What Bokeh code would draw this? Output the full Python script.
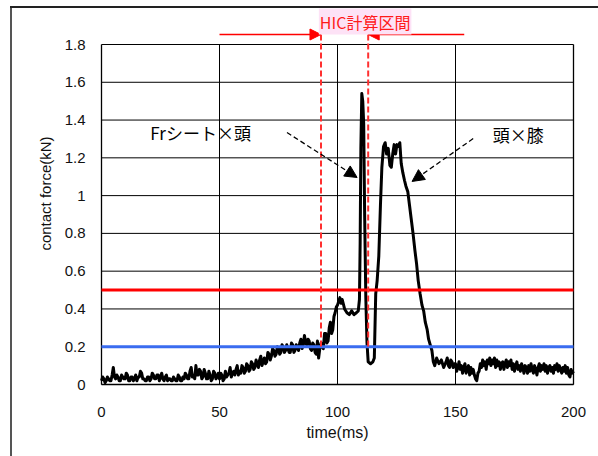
from bokeh.plotting import figure
from bokeh.models import Range1d, FixedTicker, Arrow, NormalHead, Label, ColumnDataSource
from bokeh.embed import file_html
from bokeh.resources import INLINE

# ---------------- data ----------------
time_a = [0.5 * i for i in range(201)]          # 0 .. 100 ms
force_a = [0.02, 0.04, 0.03, 0.01, 0.02, 0.04, 0.03, 0.02, 0.02, 0.05, 0.09, 0.04, 0.03, 0.05, 0.04, 0.02, 0.02, 0.05, 0.04, 0.03,
           0.03, 0.06, 0.05, 0.02, 0.02, 0.04, 0.04, 0.02, 0.03, 0.05, 0.02, 0.04, 0.04, 0.07, 0.06, 0.03, 0.03, 0.02, 0.02, 0.04,
           0.04, 0.02, 0.03, 0.06, 0.05, 0.03, 0.03, 0.05, 0.05, 0.02, 0.04, 0.06, 0.03, 0.02, 0.04, 0.05, 0.02, 0.03, 0.03, 0.02,
           0.02, 0.04, 0.03, 0.02, 0.02, 0.05, 0.04, 0.02, 0.02, 0.04, 0.03, 0.06, 0.05, 0.03, 0.03, 0.07, 0.09, 0.04, 0.05, 0.03,
           0.10, 0.05, 0.05, 0.08, 0.07, 0.03, 0.04, 0.08, 0.06, 0.03, 0.03, 0.07, 0.05, 0.02, 0.03, 0.07, 0.06, 0.03, 0.04, 0.06,
           0.03, 0.06, 0.05, 0.02, 0.03, 0.07, 0.04, 0.05, 0.06, 0.09, 0.04, 0.06, 0.07, 0.05, 0.08, 0.10, 0.05, 0.07, 0.06, 0.10,
           0.09, 0.06, 0.07, 0.11, 0.10, 0.07, 0.08, 0.12, 0.11, 0.08, 0.09, 0.13, 0.11, 0.09, 0.13, 0.15, 0.10, 0.12, 0.14, 0.11,
           0.12, 0.17, 0.16, 0.13, 0.15, 0.19, 0.18, 0.15, 0.16, 0.20, 0.19, 0.16, 0.17, 0.21, 0.20, 0.17, 0.18, 0.21, 0.19, 0.17,
           0.17, 0.22, 0.21, 0.17, 0.18, 0.21, 0.20, 0.18, 0.22, 0.24, 0.19, 0.21, 0.26, 0.22, 0.21, 0.24, 0.23, 0.19, 0.18, 0.22,
           0.21, 0.17, 0.16, 0.23, 0.14, 0.19, 0.22, 0.20, 0.19, 0.27, 0.27, 0.22, 0.23, 0.30, 0.33, 0.27, 0.29, 0.36, 0.38, 0.41,
           0.42]
time_b = [100.5, 101, 101.5, 102, 103, 104, 105, 106, 107, 108, 108.8, 109.3,
          109.6, 109.9, 110.3, 110.7, 111.1, 111.5, 112, 112.5, 113, 114, 115,
          115.6, 116.2, 116.8, 117.5, 118.2, 118.8, 119.5, 120.2, 120.8, 121.5,
          122.2, 122.8, 123.4, 124, 124.6, 125.2, 125.8, 126.4, 127, 127.7,
          128.4, 129, 129.8, 130.5, 131.2, 132, 132.8, 133.5, 134.2, 135,
          135.8, 136.5, 137.2, 138, 138.6, 139.3, 140, 140.6, 141.2, 142, 143,
          144, 145]
force_b = [0.44, 0.46, 0.43, 0.45, 0.40, 0.38, 0.37, 0.39, 0.37, 0.38, 0.39, 0.45,
           0.75, 1.25, 1.54, 1.50, 1.38, 0.90, 0.46, 0.22, 0.12, 0.11, 0.12,
           0.14, 0.48, 0.55, 0.68, 0.95, 1.15, 1.26, 1.28, 1.22, 1.25,
           1.16, 1.15, 1.22, 1.27, 1.22, 1.27, 1.26, 1.28, 1.17, 1.12,
           1.08, 1.05, 1.02, 0.95, 0.88, 0.80, 0.71, 0.64, 0.55, 0.48,
           0.42, 0.39, 0.33, 0.29, 0.24, 0.21, 0.18, 0.12, 0.10, 0.14, 0.11,
           0.13, 0.09]
time_c = [146 + 0.5 * i for i in range(109)]    # 146 .. 200 ms
force_c = [0.12, 0.14, 0.10, 0.09, 0.13, 0.12, 0.09, 0.11,
           0.11, 0.07, 0.09, 0.12, 0.08, 0.10, 0.06, 0.09, 0.11, 0.06, 0.08, 0.10, 0.05, 0.09, 0.06, 0.08, 0.05, 0.03, 0.02, 0.06,
           0.07, 0.11, 0.09, 0.13, 0.10, 0.12, 0.08, 0.13, 0.11, 0.14, 0.10, 0.13, 0.11, 0.14, 0.09, 0.13, 0.10, 0.12, 0.08, 0.11,
           0.12, 0.08, 0.11, 0.13, 0.09, 0.12, 0.10, 0.13, 0.08, 0.11, 0.07, 0.10, 0.12, 0.08, 0.10, 0.07, 0.11, 0.09, 0.06, 0.10,
           0.09, 0.06, 0.10, 0.07, 0.11, 0.08, 0.06, 0.10, 0.08, 0.05, 0.09, 0.11, 0.07, 0.10, 0.08, 0.11, 0.07, 0.10, 0.06, 0.09,
           0.10, 0.07, 0.09, 0.06, 0.10, 0.08, 0.11, 0.07, 0.10, 0.08, 0.06, 0.09, 0.07, 0.10, 0.06, 0.09, 0.05, 0.04, 0.08, 0.06,
           0.07]

red_level = 0.5
blue_level = 0.2
hic_start = 93
hic_end = 113
x_min, x_max = 0, 200
y_min, y_max = 0, 1.8
x_ticks = [0, 50, 100, 150, 200]
x_grid = [50, 100, 150]
y_ticks = [0, 0.2, 0.4, 0.6, 0.8, 1, 1.2, 1.4, 1.6, 1.8]
y_tick_labels = ["0", "0.2", "0.4", "0.6", "0.8", "1", "1.2", "1.4", "1.6", "1.8"]

time = time_a + time_b + time_c
force = force_a + force_b + force_c
src = ColumnDataSource(dict(t=time, f=force))

FONT = "Liberation Sans"
CJK = "Noto Sans CJK JP"

# frame: x 0..200 -> px 101..573 ; y 0..1.8 -> px 384..44
PX_X = 472 / 200.0
PX_Y = 340 / 1.8
pad_x = 2 / PX_X
pad_y = 2 / PX_Y
y_top = y_max + 44 / PX_Y

p = figure(width=598, height=456, output_backend="svg", toolbar_location=None,
           x_range=Range1d(x_min - pad_x, x_max + pad_x),
           y_range=Range1d(y_min - pad_y, y_top),
           min_border_left=99, min_border_right=23, min_border_top=0,
           min_border_bottom=70)
p.background_fill_color = None
p.border_fill_color = None
p.outline_line_color = None
p.styles = {
    "background-color": "white",
    "background-image": "linear-gradient(#222222, #222222), linear-gradient(#555555, #555555)",
    "background-size": "100% 2px, 2px 100%",
    "background-position": "10px 6px, 10px 6px",
    "background-repeat": "no-repeat",
}
p.xgrid.visible = False
p.ygrid.visible = False

# axes
p.xaxis.ticker = FixedTicker(ticks=x_ticks)
p.yaxis.ticker = FixedTicker(ticks=y_ticks)
p.xaxis.bounds = (x_min, x_max)
p.yaxis.bounds = (y_min, y_max)
p.yaxis.major_label_overrides = {t: s for t, s in zip(y_ticks, y_tick_labels)}
for ax in (p.xaxis, p.yaxis):
    ax.major_tick_line_color = None
    ax.minor_tick_line_color = None
    ax.major_tick_out = 0
    ax.axis_line_color = None
    ax.major_label_text_font = FONT
    ax.major_label_text_font_size = "15px"
    ax.major_label_text_color = "#111111"
    ax.axis_label_text_font = FONT
    ax.axis_label_text_font_size = "15px"
    ax.axis_label_text_font_style = "normal"
    ax.axis_label_text_color = "#111111"
p.xaxis.axis_label_text_font_size = "16px"
p.xaxis.major_label_standoff = 20
p.xaxis.axis_label_standoff = 4
p.yaxis.major_label_standoff = 14
p.yaxis.axis_label_standoff = 8
p.xaxis.axis_label = "time(ms)"
p.yaxis.axis_label = "contact force(kN)"

# grid lines and plot box
n_h = len(y_ticks)
p.segment(x0=[x_min] * n_h, y0=y_ticks, x1=[x_max] * n_h, y1=y_ticks,
          line_color="black", line_width=1)
n_v = len(x_grid)
p.segment(x0=x_grid, y0=[y_min] * n_v, x1=x_grid, y1=[y_max] * n_v,
          line_color="black", line_width=1)
p.segment(x0=[x_min, x_max], y0=[y_min, y_min], x1=[x_min, x_max], y1=[y_max, y_max],
          line_color="black", line_width=1.3)
p.segment(x0=[x_min], y0=[y_min], x1=[x_max], y1=[y_min], line_color="black", line_width=1.3)

# data curve
p.line("t", "f", source=src, line_color="black", line_width=3, line_join="round")

# threshold lines
p.segment(x0=[x_min], y0=[red_level], x1=[x_max], y1=[red_level],
          line_color="#ff0000", line_width=3)
p.segment(x0=[x_min], y0=[blue_level], x1=[x_max], y1=[blue_level],
          line_color="#3a6cf0", line_width=3)

# HIC window
top_y = y_max + 10 / PX_Y
for xh in (hic_start, hic_end):
    p.add_layout(Arrow(x_start=xh, y_start=top_y, x_end=xh, y_end=blue_level, end=None,
                       line_color="#ff3030", line_width=2, line_dash="6 3"))
arrow_y = y_max + 10 / PX_Y
p.add_layout(Arrow(x_start=50, y_start=arrow_y, x_end=hic_start, y_end=arrow_y,
                   line_color="#ff0000", line_width=1.5,
                   end=NormalHead(size=11, fill_color="#ff0000", line_color="#ff0000")))
p.add_layout(Arrow(x_start=153.7, y_start=arrow_y, x_end=hic_end, y_end=arrow_y,
                   line_color="#ff0000", line_width=1.5,
                   end=NormalHead(size=11, fill_color="#ff0000", line_color="#ff0000")))
p.add_layout(Label(x=111.7, y=y_max + 23 / PX_Y, text="HIC計算区間", text_font=CJK,
                   text_font_size="16px", text_color="#ff1a1a", text_align="center",
                   text_baseline="middle", background_fill_color="#fde2f6",
                   padding=1))

# annotations
p.add_layout(Label(x=42, y=1.335, text="Frシート×頭", text_font=CJK,
                   text_font_size="17px", text_color="black", text_align="center",
                   text_baseline="middle"))
p.add_layout(Label(x=176.6, y=1.325, text="頭×膝", text_font=CJK,
                   text_font_size="17px", text_color="black", text_align="center",
                   text_baseline="middle"))
p.add_layout(Arrow(x_start=78.6, y_start=1.334, x_end=108.3, y_end=1.096,
                   line_color="black", line_width=1.3, line_dash="5 3",
                   end=NormalHead(size=12, fill_color="black", line_color="black")))
p.add_layout(Arrow(x_start=157.5, y_start=1.302, x_end=131.6, y_end=1.075,
                   line_color="black", line_width=1.3, line_dash="5 3",
                   end=NormalHead(size=12, fill_color="black", line_color="black")))

open("out.html", "w").write(file_html(p, INLINE))
